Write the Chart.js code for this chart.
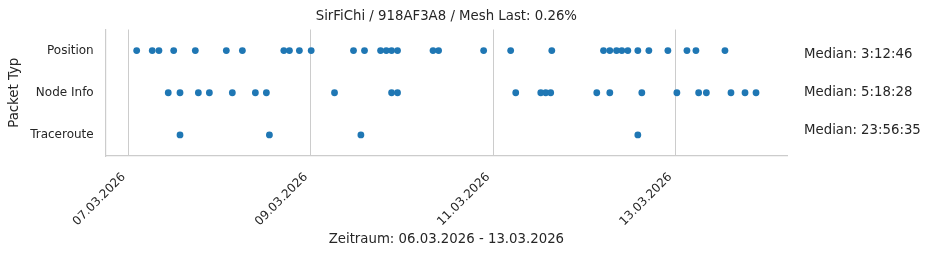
<!DOCTYPE html>
<html>
<head>
<meta charset="utf-8">
<script src="https://cdn.jsdelivr.net/npm/chart.js@4.4.1/dist/chart.umd.min.js"></script>
<style>
  html, body { margin: 0; padding: 0; background: #fff; }
  #wrap { width: 931px; height: 255px; }
</style>
</head>
<body>
<div id="wrap"><canvas id="chart"></canvas></div>
<script>
const chartTitle = 'SirFiChi / 918AF3A8 / Mesh Last: 0.26%';
const xTitle = 'Zeitraum: 06.03.2026 - 13.03.2026';
const yTitle = 'Packet Typ';
const packetTypes = ['Position', 'Node Info', 'Traceroute'];
const dateTicks = ['2026-03-07', '2026-03-09', '2026-03-11', '2026-03-13'];
const medians = ['Median: 3:12:46', 'Median: 5:18:28', 'Median: 23:56:35'];

const positionTimes = [
  '2026-03-07 02:07', '2026-03-07 06:13', '2026-03-07 07:59', '2026-03-07 11:52', '2026-03-07 17:34',
  '2026-03-08 01:44', '2026-03-08 05:58', '2026-03-08 16:53', '2026-03-08 18:22', '2026-03-08 20:59',
  '2026-03-09 00:05', '2026-03-09 11:14', '2026-03-09 14:08', '2026-03-09 18:22', '2026-03-09 19:52',
  '2026-03-09 21:16', '2026-03-09 22:50', '2026-03-10 08:11', '2026-03-10 09:39', '2026-03-10 21:31',
  '2026-03-11 04:38', '2026-03-11 15:28', '2026-03-12 05:05', '2026-03-12 06:45', '2026-03-12 08:31',
  '2026-03-12 09:55', '2026-03-12 11:30', '2026-03-12 14:08', '2026-03-12 17:02', '2026-03-12 22:03',
  '2026-03-13 03:04', '2026-03-13 05:26', '2026-03-13 13:05'
];
const nodeInfoTimes = [
  '2026-03-07 10:26', '2026-03-07 13:32', '2026-03-07 18:22', '2026-03-07 21:16', '2026-03-08 03:19',
  '2026-03-08 09:23', '2026-03-08 12:17', '2026-03-09 06:14', '2026-03-09 21:16', '2026-03-09 22:50',
  '2026-03-11 05:58', '2026-03-11 12:34', '2026-03-11 13:52', '2026-03-11 15:11', '2026-03-12 03:19',
  '2026-03-12 06:45', '2026-03-12 15:11', '2026-03-13 00:25', '2026-03-13 06:09', '2026-03-13 08:11',
  '2026-03-13 14:40', '2026-03-13 18:22', '2026-03-13 21:16'
];
const tracerouteTimes = ['2026-03-07 13:32', '2026-03-08 13:05', '2026-03-09 13:11', '2026-03-12 14:08'];

const FONT = 'DejaVu Sans';
const TEXT = '#262626';
const GRID = '#cccccc';

const toMs = s => Date.parse(s.replace(' ', 'T') + (s.length > 10 ? ':00Z' : 'T00:00:00Z'));
const fmtDate = ms => {
  const d = new Date(ms);
  const p = n => String(n).padStart(2, '0');
  return `${p(d.getUTCDate())}.${p(d.getUTCMonth() + 1)}.${d.getUTCFullYear()}`;
};

const allTimes = [positionTimes, nodeInfoTimes, tracerouteTimes];
const points = [];
allTimes.forEach((list, i) => list.forEach(t => points.push({ x: toMs(t), y: packetTypes[i] })));

// matplotlib-like 5% margin
const xs = points.map(p => p.x);
const lo = Math.min(...xs), hi = Math.max(...xs);
const pad = (hi - lo) * 0.05;

// title centred over the plot area + median labels to the right of it
const extraText = {
  id: 'extraText',
  afterDraw(chart) {
    const { ctx, chartArea } = chart;
    const w = chartArea.right - chartArea.left;
    const h = chartArea.bottom - chartArea.top;
    ctx.save();
    ctx.font = `13.3px "${FONT}"`;
    ctx.fillStyle = TEXT;
    ctx.textBaseline = 'middle';
    ctx.textAlign = 'center';
    ctx.fillText(chartTitle, chartArea.left + w / 2, 16.5);
    ctx.textAlign = 'left';
    const x = chartArea.right + w * 0.025;
    [0.2, 0.5, 0.8].forEach((f, i) => {
      ctx.fillText(medians[i], x, chartArea.top + h * f);
    });
    ctx.restore();
  }
};

new Chart(document.getElementById('chart'), {
  type: 'scatter',
  data: {
    datasets: [{
      data: points,
      backgroundColor: '#1f77b4',
      borderColor: '#1f77b4',
      borderWidth: 0,
      pointRadius: 3.4
    }]
  },
  options: {
    responsive: true,
    maintainAspectRatio: false,
    animation: false,
    layout: { padding: { left: 0, right: 144, top: 29.5, bottom: 0 } },
    plugins: {
      legend: { display: false },
      tooltip: { enabled: false },
      title: { display: false }
    },
    scales: {
      x: {
        type: 'linear',
        min: lo - pad,
        max: hi + pad,
        afterBuildTicks: s => { s.ticks = dateTicks.map(d => ({ value: toMs(d) })); },
        afterFit: s => { s.height = 99; },
        ticks: {
          callback: v => fmtDate(v),
          minRotation: 45,
          maxRotation: 45,
          color: TEXT,
          padding: 14,
          labelOffset: -5,
          font: { family: FONT, size: 12 }
        },
        grid: { color: GRID, drawTicks: false, lineWidth: 1 },
        border: { display: true, color: GRID, width: 1.2 },
        title: {
          display: true,
          text: xTitle,
          color: TEXT,
          font: { family: FONT, size: 13.3 },
          padding: { top: 4, bottom: 7 }
        }
      },
      y: {
        type: 'category',
        labels: packetTypes,
        offset: true,
        afterFit: s => { s.width = 105.7; },
        ticks: {
          color: TEXT,
          padding: 12,
          font: { family: FONT, size: 12 }
        },
        grid: { display: false, drawTicks: false },
        border: { display: true, color: GRID, width: 1.2 },
        title: {
          display: true,
          text: yTitle,
          color: TEXT,
          font: { family: FONT, size: 13.3 },
          padding: { top: 7, bottom: 0 }
        }
      }
    }
  },
  plugins: [extraText]
});
</script>
</body>
</html>
